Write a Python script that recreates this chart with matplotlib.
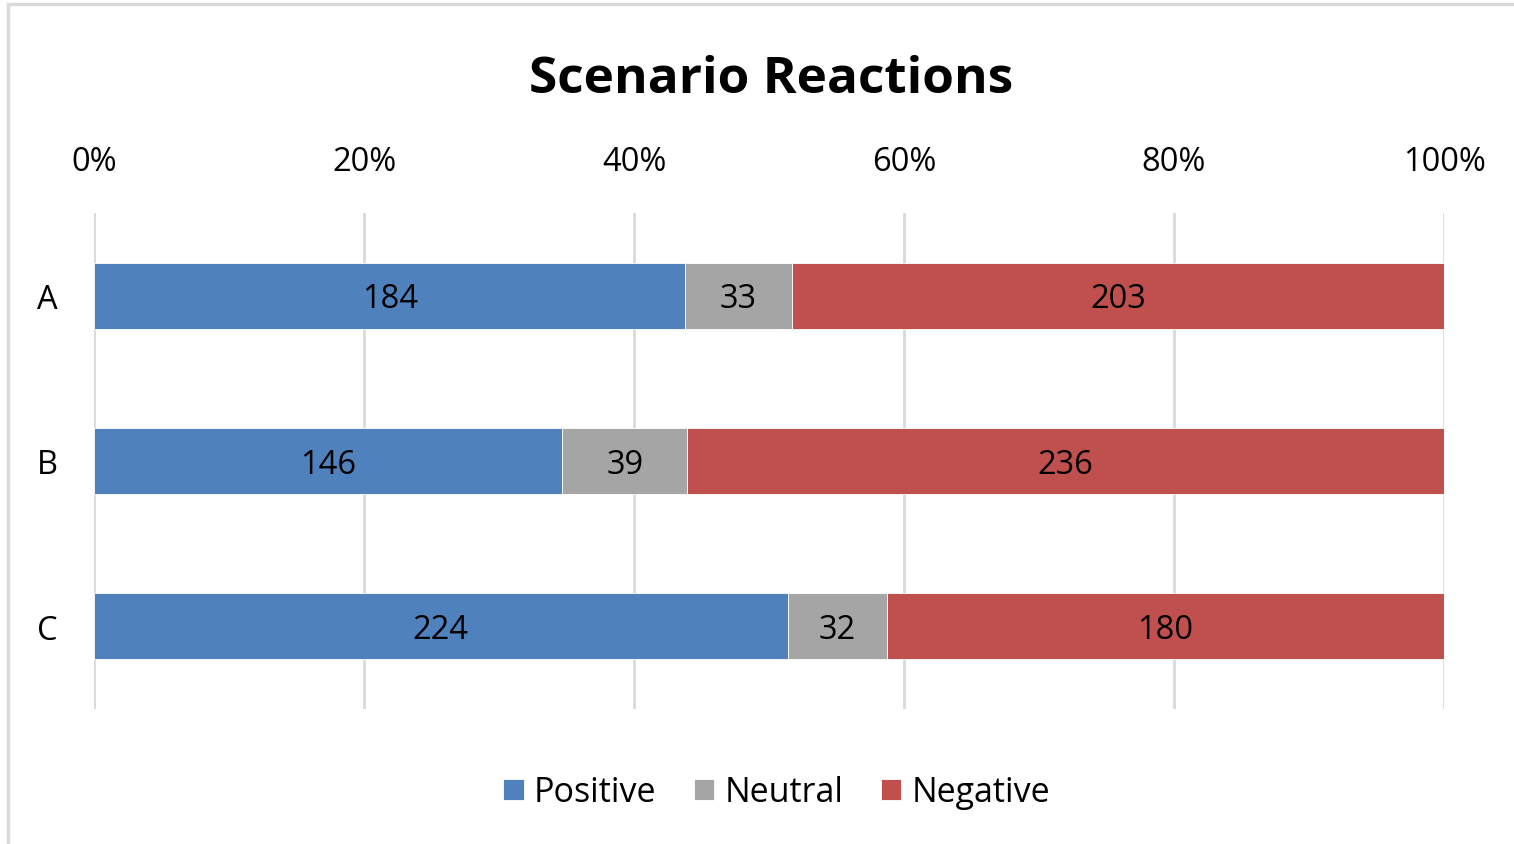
import matplotlib
matplotlib.use('Agg')
import matplotlib.pyplot as plt
import numpy as np
from matplotlib.patches import Rectangle

plt.rcParams['font.family'] = ['Open Sans', 'DejaVu Sans']

categories = ['A', 'B', 'C']
series_names = ['Positive', 'Neutral', 'Negative']
positive = [184, 146, 224]
neutral = [33, 39, 32]
negative = [203, 236, 180]
colors = ['#4F81BD', '#A5A5A5', '#C0504D']
tick_labels = ['0%', '20%', '40%', '60%', '80%', '100%']

fig = plt.figure(figsize=(15.14, 8.45), dpi=100)
ax = fig.add_axes([0.0621, 0.1598, 0.8917, 0.5870])

counts = np.array([positive, neutral, negative], dtype=float)
totals = counts.sum(axis=0)
shares = counts / totals
ypos = np.arange(len(categories))

left = np.zeros(len(categories))
for name, vals, share, col in zip(series_names, counts, shares, colors):
    ax.barh(ypos, share, left=left, height=0.4, color=col,
            label=name, edgecolor='white', linewidth=0.6, zorder=3)
    for yy, ll, ss, vv in zip(ypos, left, share, vals):
        ax.text(ll + ss / 2, yy + 0.02, f"{int(vv)}", ha='center', va='center',
                fontsize=23.5, color='black', zorder=4)
    left = left + share

ax.set_xlim(0, 1)
ax.set_ylim(2.5, -0.5)
ax.set_xticks(np.linspace(0, 1, 6))
ax.set_xticklabels(tick_labels)
ax.set_yticks(ypos)
ax.set_yticklabels(categories)
ax.xaxis.tick_top()
ax.tick_params(axis='x', length=0, pad=25, labelsize=23.5)
ax.tick_params(axis='y', length=0, pad=26, labelsize=23.5)
ax.grid(axis='x', color='#D9D9D9', linewidth=2, zorder=0)
for sp in ax.spines.values():
    sp.set_visible(False)

fig.text(0.509, 0.905, 'Scenario Reactions', ha='center', va='center',
         fontsize=37, fontweight='bold')

fig.legend(loc='center', bbox_to_anchor=(0.513, 0.061), ncol=3,
           frameon=False, fontsize=24.5, handlelength=0.6, handleheight=0.6,
           handletextpad=0.3, columnspacing=1.1)

# outer chart border (left and top edges visible)
fig.add_artist(Rectangle((0.0056, -0.01), 1.2, 1.0043, transform=fig.transFigure,
                         fill=False, edgecolor='#D9D9D9', linewidth=2.5))

fig.savefig('out.png', dpi=100)
